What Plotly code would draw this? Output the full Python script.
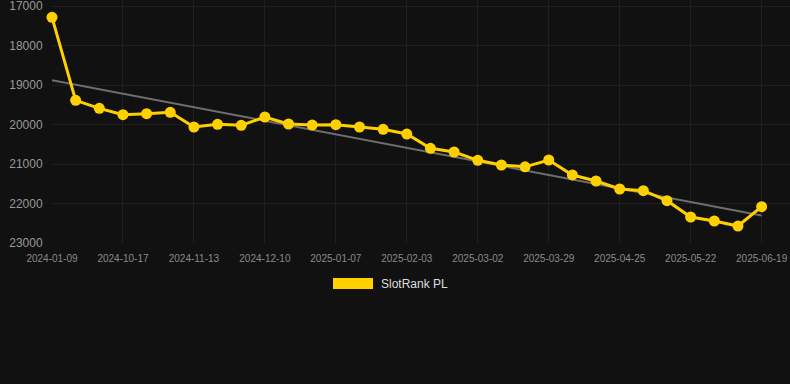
import numpy as np
import plotly.graph_objects as go

dates = ["2024-01-09", "2024-09-29", "2024-10-08", "2024-10-17", "2024-10-26", "2024-11-04",
         "2024-11-13", "2024-11-22", "2024-12-01", "2024-12-10", "2024-12-19", "2024-12-29",
         "2025-01-07", "2025-01-16", "2025-01-25", "2025-02-03", "2025-02-12", "2025-02-21",
         "2025-03-02", "2025-03-11", "2025-03-20", "2025-03-29", "2025-04-07", "2025-04-16",
         "2025-04-25", "2025-05-04", "2025-05-13", "2025-05-22", "2025-05-31", "2025-06-10",
         "2025-06-19"]
rank = [17286, 19388, 19591, 19752, 19726, 19692, 20063, 19995, 20021, 19810,
        19987, 20013, 20004, 20063, 20122, 20241, 20603, 20696, 20907, 21025,
        21072, 20899, 21278, 21430, 21633, 21675, 21928, 22342, 22443, 22570,
        22080]
tick_labels = dates[::3]
y_ticks = [17000, 18000, 19000, 20000, 21000, 22000, 23000]
y_tick_labels = [str(v) for v in y_ticks]
series_name = "SlotRank PL"

x_idx = np.arange(len(rank))
coef = np.polyfit(x_idx, rank, 1)
trend = np.polyval(coef, x_idx)

fig = go.Figure()
fig.add_trace(go.Scatter(x=x_idx, y=trend, mode="lines",
                         line=dict(color="#6e6e6e", width=2), showlegend=False, hoverinfo="skip"))
fig.add_trace(go.Scatter(x=x_idx, y=rank, mode="lines+markers", name=series_name,
                         line=dict(color="#FFD000", width=3),
                         marker=dict(color="#FFD000", size=11), showlegend=False,
                         cliponaxis=False))

# plot area: x 52..790, y 0..243
fig.add_shape(type="rect", xref="paper", yref="paper",
              x0=(333 - 52) / 738, x1=(373 - 52) / 738,
              y0=(243 - 289) / 243, y1=(243 - 278) / 243,
              fillcolor="#FFD000", line=dict(width=0))
fig.add_annotation(text=series_name, xref="paper", yref="paper",
                   x=(379 - 52) / 738, y=(243 - 284) / 243, xanchor="left", yanchor="middle",
                   showarrow=False, font=dict(color="#dddddd", size=12, family="Liberation Sans, Arial, sans-serif"))

fig.update_layout(
    width=790, height=384,
    margin=dict(l=52, r=0, t=0, b=141),
    paper_bgcolor="#111111", plot_bgcolor="#111111",
    font=dict(family="Liberation Sans, Arial, sans-serif", color="#999999"),
    showlegend=False,
)
fig.update_xaxes(range=[0, 31.2], tickmode="array", tickvals=x_idx[::3], ticktext=tick_labels,
                 showgrid=True, gridcolor="#1f1f1f", zeroline=False, showline=False,
                 ticks="outside", ticklen=6, tickcolor="rgba(0,0,0,0)",
                 ticklabeloverflow="allow",
                 tickfont=dict(size=10, color="#8a8a8a"))
fig.update_yaxes(range=[23000, 16848], tickmode="array", tickvals=y_ticks, ticktext=y_tick_labels,
                 showgrid=True, gridcolor="#1f1f1f", zeroline=False, showline=False,
                 ticks="outside", ticklen=6, tickcolor="rgba(0,0,0,0)",
                 ticklabeloverflow="allow",
                 tickfont=dict(size=12, color="#999999"))

fig.write_html("out.html", config={"displayModeBar": False},
               post_script="document.body.style.margin='0';document.body.style.background='#111111';")
